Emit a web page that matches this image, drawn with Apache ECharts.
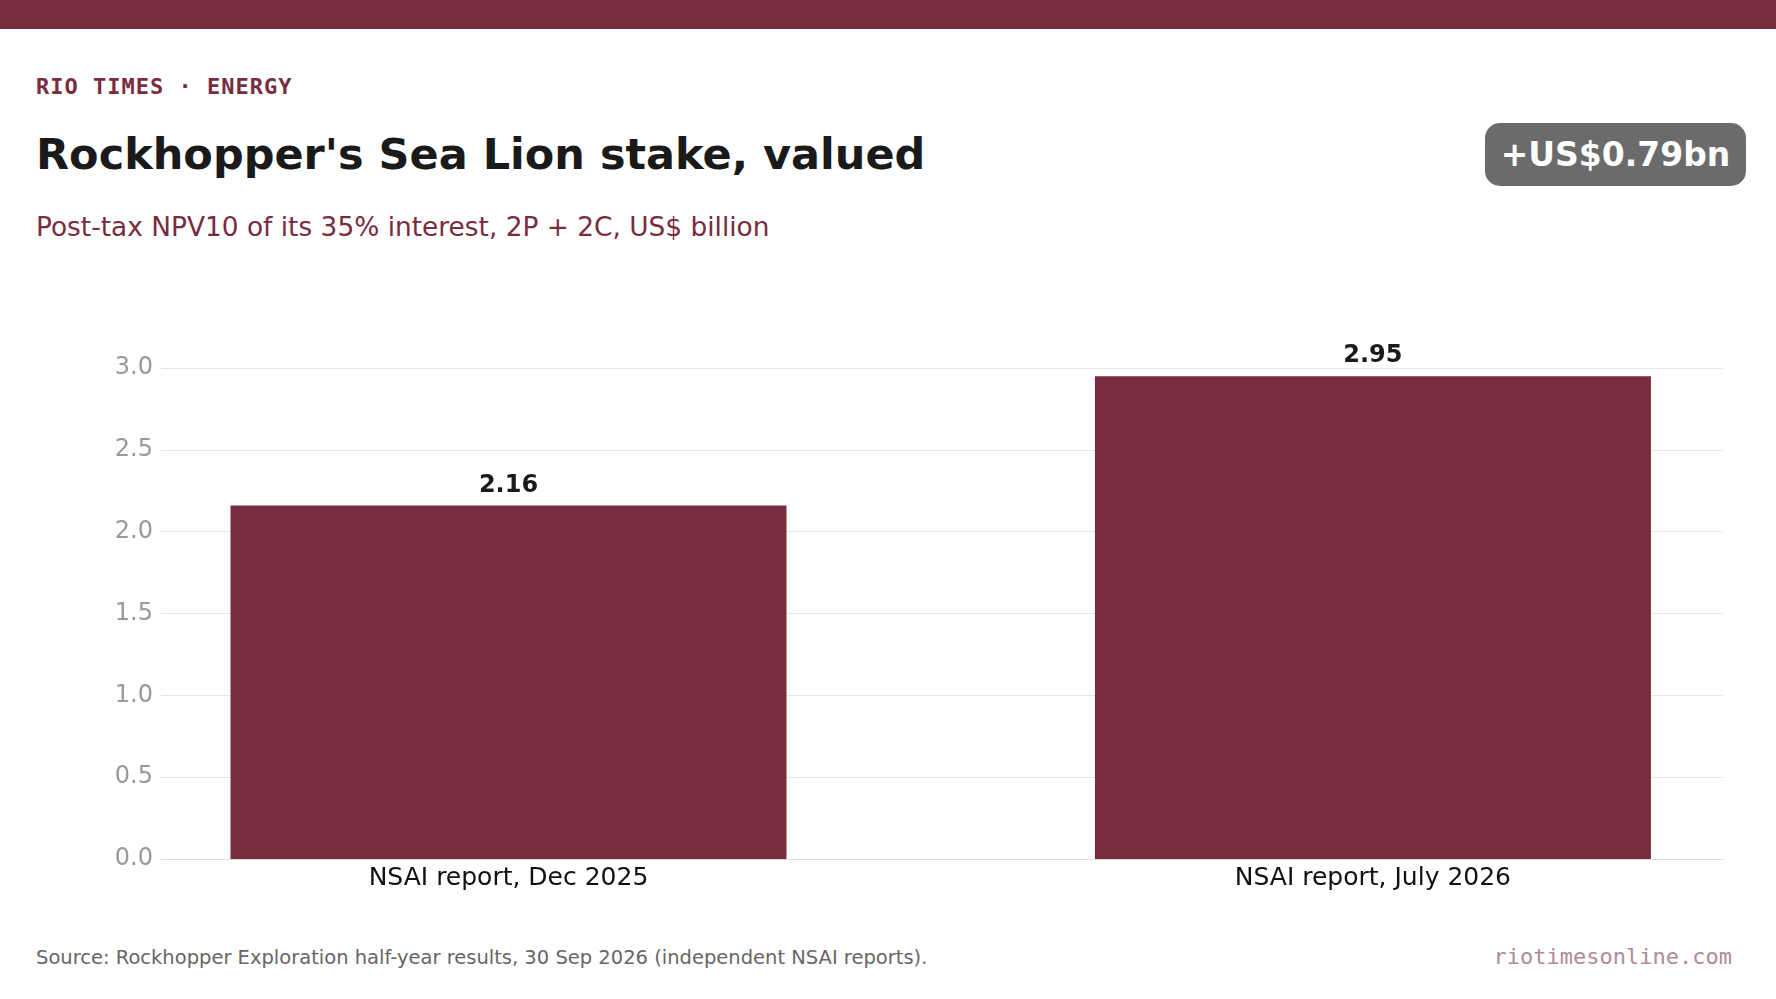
<!DOCTYPE html>
<html>
<head>
<meta charset="utf-8">
<script src="https://cdn.jsdelivr.net/npm/echarts@6/dist/echarts.min.js"></script>
<style>
  body { margin: 0; width: 1776px; height: 999px; background: #fff; font-family: "DejaVu Sans", sans-serif; position: relative; overflow: hidden; }
  .bar { position: absolute; left: 0; top: 0; width: 1776px; height: 29px; background: #7a2c3f; }
  .kicker { position: absolute; left: 36px; top: 74px; font: bold 22px "DejaVu Sans Mono", monospace; color: #7a2c3f; letter-spacing: 1px; }
  .title { position: absolute; left: 36px; top: 129px; font: bold 43px "DejaVu Sans", sans-serif; color: #1a1a1a; }
  .sub { position: absolute; left: 36px; top: 211px; font: 26.4px "DejaVu Sans", sans-serif; color: #7a2c3f; }
  .badge { position: absolute; left: 1485px; top: 123px; width: 261px; height: 63px; border-radius: 15px; background: #6b6b6b; color: #fff; font: bold 33px "DejaVu Sans", sans-serif; text-align: center; line-height: 63px; }
  .src { position: absolute; left: 36px; top: 946px; font: 19.5px "DejaVu Sans", sans-serif; color: #666; }
  .site { position: absolute; right: 44px; top: 944px; font: 22px "DejaVu Sans Mono", monospace; color: #b08a95; }
  #chart { position: absolute; left: 0; top: 300px; width: 1776px; height: 620px; }
</style>
</head>
<body>
<div class="bar"></div>
<div class="kicker">RIO TIMES · ENERGY</div>
<div class="title">Rockhopper's Sea Lion stake, valued</div>
<div class="sub">Post-tax NPV10 of its 35% interest, 2P + 2C, US$ billion</div>
<div class="badge">+US$0.79bn</div>
<div id="chart"></div>
<div class="src">Source: Rockhopper Exploration half-year results, 30 Sep 2026 (independent NSAI reports).</div>
<div class="site">riotimesonline.com</div>
<script>
/*数据*/
var categories = ['NSAI report, Dec 2025', 'NSAI report, July 2026'];
var npvValues = [2.16, 2.95];

var barData = npvValues.map(function (v, i) { return [i, v]; });
var labelData = categories.map(function (c, i) { return [i, 0]; });

var chart = echarts.init(document.getElementById('chart'));
chart.setOption({
    animation: false,
    grid: { left: 161, right: 53, top: 68, bottom: 61 },
    xAxis: {
        type: 'value',
        min: -0.402, max: 1.405,
        axisLine: { show: true, lineStyle: { color: '#e0e0e0' } },
        axisTick: { show: false },
        axisLabel: { show: false },
        splitLine: { show: false }
    },
    yAxis: {
        type: 'value',
        min: 0, max: 3, interval: 0.5,
        axisLine: { show: false },
        axisTick: { show: false },
        splitLine: { lineStyle: { color: '#e6e6e6' } },
        axisLabel: { color: '#999', fontSize: 24, margin: 8, fontFamily: 'DejaVu Sans',
            formatter: function (v) { return v.toFixed(1); } }
    },
    series: [{
        type: 'bar',
        data: barData,
        barWidth: 556,
        itemStyle: { color: '#7a2c3f' },
        label: { show: true, position: 'top', distance: 8, color: '#1a1a1a', fontWeight: 'bold', fontSize: 24,
            fontFamily: 'DejaVu Sans', formatter: function (p) { return p.value[1].toFixed(2); } }
    }, {
        type: 'scatter',
        data: labelData,
        symbolSize: 1,
        silent: true,
        itemStyle: { color: 'rgba(0,0,0,0)', opacity: 1 },
        label: { show: true, position: 'bottom', distance: 6, color: '#111', opacity: 1, fontSize: 25,
            fontFamily: 'DejaVu Sans', formatter: function (p) { return categories[p.dataIndex]; } }
    }]
});
</script>
</body>
</html>
